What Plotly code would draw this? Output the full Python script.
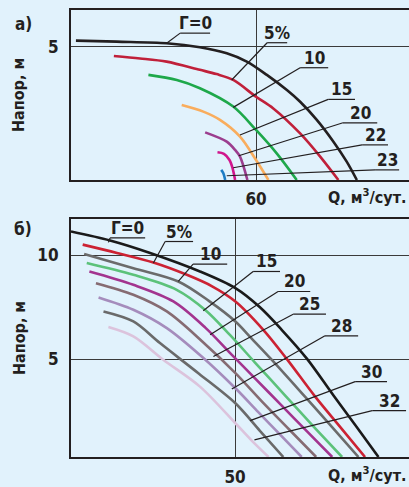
import plotly.graph_objects as go

FONT = "DejaVu Sans Condensed, Liberation Sans Narrow, Arial Narrow, sans-serif"
TXT = "#231f20"
BG = "#e1f2fc"
FS = 17

# ---- panel a) ----
a_labels = ["Г=0", "5%", "10", "15", "20", "22", "23"]
a_colors = ["#231f20", "#c0203a", "#1ea84a", "#f9ad5d", "#9b3d8e", "#d0168c", "#1c7cc4"]
a_x = [
    [1.6, 14.8, 31.0, 41.8, 50.5, 57.0, 63.5, 70.0, 74.3, 79.7, 85.1, 89.4, 92.7],
    [13.9, 22.4, 31.0, 41.8, 47.2, 52.6, 60.0, 65.6, 74.3, 80.8, 86.7],
    [25.1, 34.3, 41.8, 52.6, 60.0, 66.7, 73.2],
    [35.9, 42.9, 48.3, 54.8, 60.0, 64.0],
    [43.5, 50.5, 53.2, 54.8, 57.2],
    [47.5, 49.6, 51.4, 52.4, 53.2],
    [48.7, 49.4, 50.0],
]
a_y = [
    [5.24, 5.20, 5.14, 4.99, 4.76, 4.45, 3.95, 3.38, 2.94, 2.26, 1.44, 0.69, 0],
    [4.66, 4.57, 4.45, 4.14, 3.98, 3.76, 3.13, 2.69, 1.75, 0.88, 0],
    [3.95, 3.76, 3.45, 2.76, 1.88, 1.00, 0],
    [2.82, 2.57, 2.26, 1.63, 0.75, 0],
    [1.79, 1.44, 1.13, 0.88, 0],
    [1.04, 0.98, 0.75, 0.44, 0],
    [0.38, 0.25, 0],
]
a_ul_x0 = [35.4, 63.6, 74.3, 83.4, 88.2, 94.4, 98.6]
a_ul_x1 = [45.1, 70.1, 83.4, 92.1, 99.3, 102.8, 106.4]
a_ul_y = [5.52, 5.16, 4.22, 3.03, 2.15, 1.32, 0.38]
a_end_x = [31.0, 52.1, 52.6, 54.8, 54.4, 52.6, 50.5]
a_end_y = [5.14, 3.76, 2.73, 1.69, 0.91, 0.46, 0.16]

# ---- panel б) ----
b_labels = ["Г=0", "5%", "10", "15", "20", "25", "28", "30", "32"]
b_colors = ["#1a1a1a", "#cc2233", "#6b6b6b", "#5cc27a", "#a3348f",
            "#866b72", "#a58cbc", "#6a6a6a", "#dcc3dc"]
b_x = [
    [0, 11.9, 24.1, 39.3, 50.1, 57.5, 64.2, 72.0, 80.0, 87.0, 93.7],
    [3.56, 14, 25.1, 35.3, 43, 50.1, 58.6, 65.8, 74.4, 82, 89.6],
    [4.0, 19, 32.7, 42, 50.1, 55, 61, 71.3, 79.5, 87.6],
    [4.8, 19, 32.2, 41, 48.5, 56, 65, 74, 82.6],
    [5.6, 19, 31.2, 41, 48.5, 56, 64, 72, 79.6],
    [7.6, 19, 29.2, 40, 50.1, 58, 66.5, 74.7],
    [8.4, 19, 29.2, 40, 50.1, 57, 63.5, 70.3],
    [9.9, 19, 27.1, 39, 50.1, 57.5, 64.7],
    [11.4, 19, 28.1, 39.3, 50.1, 55, 60.2],
]
b_y = [
    [11.13, 10.7, 10.1, 9.21, 8.41, 7.5, 6.41, 5.0, 3.25, 1.75, 0.3],
    [10.5, 10.1, 9.64, 9.05, 8.5, 7.77, 6.41, 5.0, 3.2, 1.75, 0.3],
    [10.05, 9.37, 8.73, 7.8, 6.81, 6.0, 5.0, 3.2, 1.75, 0.3],
    [9.62, 9.05, 8.33, 7.35, 6.15, 4.85, 3.3, 1.75, 0.3],
    [9.21, 8.57, 7.77, 6.5, 5.29, 4.09, 2.8, 1.52, 0.3],
    [8.65, 8.09, 7.29, 5.85, 4.33, 3.0, 1.62, 0.3],
    [7.96, 7.37, 6.49, 5.1, 3.6, 2.47, 1.41, 0.3],
    [7.29, 6.81, 5.77, 4.3, 2.88, 1.57, 0.3],
    [6.54, 6.09, 4.97, 3.68, 1.92, 1.1, 0.3],
]
b_ul_x0 = [11.9, 28.7, 37.2, 55.5, 63.1, 67.7, 77.4, 86.6, 91.8]
b_ul_x1 = [22.6, 37.2, 47.6, 63.7, 72.9, 77.7, 87.5, 96.3, 102.1]
b_ul_y = [10.82, 10.65, 9.56, 9.21, 8.25, 7.16, 6.12, 3.92, 2.53]
b_end_x = [11.4, 25.1, 32.7, 40.3, 42.4, 43.4, 49.0, 54.6, 55.9]
b_end_y = [10.61, 9.62, 8.73, 7.32, 6.17, 5.13, 3.57, 2.05, 1.12]

a_xrange = [0, 109.6]
a_yrange = [0, 6.39]
b_xrange = [0, 103.0]
b_yrange = [0.3, 11.73]

fig = go.Figure()
shapes = []
annotations = []

def tfont(size=FS):
    return dict(family=FONT, size=size, color=TXT, weight="bold")

def add_panel(xs, ys, colors, labels, ul_x0, ul_x1, ul_y, ex, ey, xa, ya):
    for x, y, c in zip(xs, ys, colors):
        fig.add_trace(go.Scatter(x=x, y=y, mode="lines", xaxis=xa, yaxis=ya,
                                 line=dict(color=c, width=2.6, shape="spline", smoothing=0.9),
                                 hoverinfo="skip", showlegend=False))
    for lab, x0, x1, y0, xe, ye in zip(labels, ul_x0, ul_x1, ul_y, ex, ey):
        shapes.append(dict(type="line", xref=xa, yref=ya, x0=x0, x1=x1, y0=y0, y1=y0,
                           line=dict(color="#231f20", width=1.2)))
        shapes.append(dict(type="line", xref=xa, yref=ya, x0=x0, x1=xe, y0=y0, y1=ye,
                           line=dict(color="#231f20", width=1.2)))
        annotations.append(dict(xref=xa, yref=ya, x=(x0 + x1) / 2, y=y0, text=lab,
                                showarrow=False, xanchor="center", yanchor="bottom", yshift=-2,
                                font=tfont()))

add_panel(a_x, a_y, a_colors, a_labels, a_ul_x0, a_ul_x1, a_ul_y, a_end_x, a_end_y, "x", "y")
add_panel(b_x, b_y, b_colors, b_labels, b_ul_x0, b_ul_x1, b_ul_y, b_end_x, b_end_y, "x2", "y2")

axcommon = dict(showline=True, linecolor="#231f20", linewidth=2, showgrid=True,
                gridcolor="#3a3a3a", gridwidth=1, zeroline=False, ticks="outside",
                tickcolor="rgba(0,0,0,0)", tickfont=tfont(), fixedrange=True,
                automargin=False)

fig.update_layout(
    width=409, height=487,
    margin=dict(l=71, r=0, t=10, b=30, autoexpand=False),
    paper_bgcolor=BG, plot_bgcolor=BG,
    xaxis=dict(domain=[0, 1], range=a_xrange, tickvals=[60], ticklen=3, anchor="y",
               mirror=True, **axcommon),
    yaxis=dict(domain=[0.6197, 1.0], range=a_yrange, tickvals=[5], ticklen=7, anchor="x",
               **axcommon),
    xaxis2=dict(domain=[0, 1], range=b_xrange, tickvals=[50], ticklen=4, anchor="y2",
                mirror=True, **axcommon),
    yaxis2=dict(domain=[0, 0.5324], range=b_yrange, tickvals=[5, 10], ticklen=7, anchor="x2",
                **axcommon),
    shapes=shapes,
)

annotations += [
    dict(xref="paper", yref="paper", x=0, y=1.0, xshift=-48, yshift=-2, text="а)",
         showarrow=False, xanchor="center", yanchor="top", font=tfont()),
    dict(xref="paper", yref="paper", x=0, y=0.5324, xshift=-48, yshift=2, text="б)",
         showarrow=False, xanchor="center", yanchor="top", font=tfont()),
    dict(xref="paper", yref="paper", x=0, y=(0.6197 + 1.0) / 2, xshift=-52, text="Напор, м",
         showarrow=False, textangle=-90, xanchor="center", yanchor="middle", font=tfont(16)),
    dict(xref="paper", yref="paper", x=0, y=0.5324 / 2, xshift=-52, text="Напор, м",
         showarrow=False, textangle=-90, xanchor="center", yanchor="middle", font=tfont(16)),
    dict(xref="paper", yref="paper", x=1, y=0.6197, xshift=-1, yshift=-4,
         text="Q, м<sup>3</sup>/сут.", showarrow=False, xanchor="right", yanchor="top",
         font=tfont(16)),
    dict(xref="paper", yref="paper", x=1, y=0, xshift=-1, yshift=-5,
         text="Q, м<sup>3</sup>/сут.", showarrow=False, xanchor="right", yanchor="top",
         font=tfont(16)),
]
fig.update_layout(annotations=annotations)

fig.write_html("out.html", config={"displayModeBar": False},
               post_script="document.body.style.margin='0px';document.body.style.padding='0px';"
                           "document.body.style.overflow='hidden';")
